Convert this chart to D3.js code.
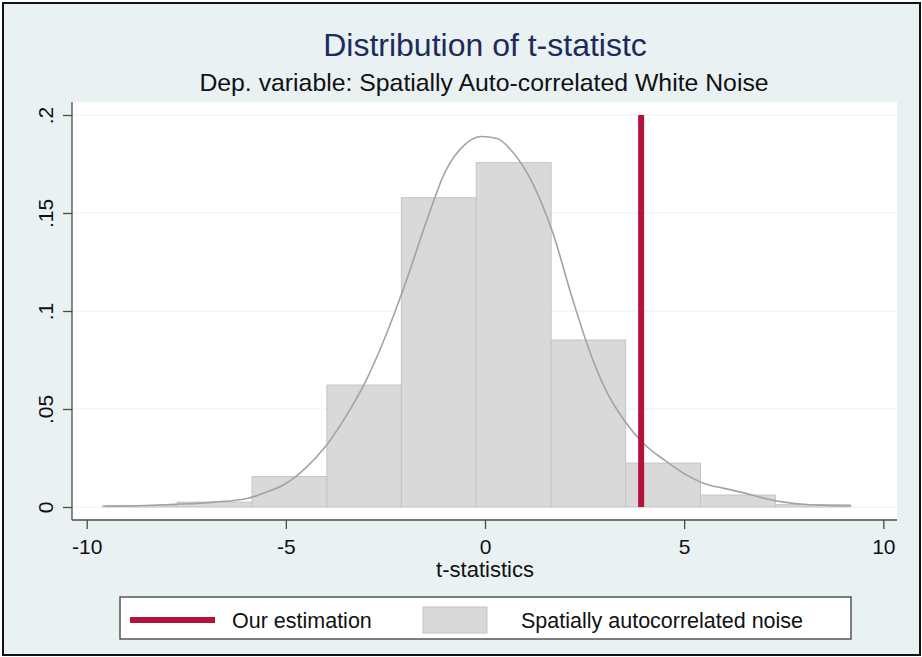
<!DOCTYPE html>
<html>
<head>
<meta charset="utf-8">
<script src="https://cdn.jsdelivr.net/npm/d3@7"></script>
<style>
  html, body { margin: 0; padding: 0; background: #ffffff; }
  svg { display: block; font-family: "Liberation Sans", Arial, Helvetica, sans-serif; }
</style>
</head>
<body>
<svg id="chart" width="922" height="657"></svg>
<script>
// ---- Data ----
const titleText = "Distribution of t-statistc";
const subtitleText = "Dep. variable: Spatially Auto-correlated White Noise";
const xLabel = "t-statistics";
const binEdges = [-9.60, -7.73, -5.85, -3.97, -2.10, -0.22, 1.66, 3.53, 5.41, 7.29, 9.16];
const binDensity = [0.0008, 0.0025, 0.0155, 0.0622, 0.1578, 0.1757, 0.0852, 0.0224, 0.0061, 0.0012];
const kdeX = [-9.55, -8.5, -7.6, -6.8, -6.0, -5.5, -5.0, -4.5, -4.0, -3.5, -3.0, -2.5, -2.0, -1.5, -1.0, -0.5, -0.1, 0.3, 0.7, 1.2, 1.7, 2.2, 2.6, 3.0, 3.5, 4.0, 4.5, 5.0, 5.5, 6.0, 6.5, 7.0, 7.5, 8.0, 8.5, 9.2];
const kdeY = [0.0004, 0.0008, 0.0015, 0.0025, 0.0042, 0.0075, 0.012, 0.020, 0.031, 0.046, 0.064, 0.087, 0.114, 0.144, 0.171, 0.185, 0.189, 0.188, 0.181, 0.165, 0.140, 0.106, 0.081, 0.061, 0.044, 0.032, 0.024, 0.017, 0.012, 0.0095, 0.0072, 0.0045, 0.0025, 0.0014, 0.0009, 0.0006];
const estimate = 3.92;
const xTicks = [-10, -5, 0, 5, 10];
const xTickLabels = ["-10", "-5", "0", "5", "10"];
const yTicks = [0, 0.05, 0.1, 0.15, 0.2];
const yTickLabels = ["0", ".05", ".1", ".15", ".2"];
const legendLabels = ["Our estimation", "Spatially autocorrelated noise"];

// ---- Layout ----
const W = 922, H = 657;
const plot = { left: 72, right: 897, top: 102, bottom: 520 };
const colors = { bg: "#e9f1f3", title: "#1d2b5b", bar: "#d9d9d9", barStroke: "#c4c4c4",
  kde: "#a3a3a3", est: "#b3123b", axis: "#4a4a4a", grid: "#edf1f2" };

const svg = d3.select("#chart");

// background & outer frame
svg.append("rect").attr("x", 0).attr("y", 0).attr("width", W).attr("height", H).attr("fill", "#ffffff");
svg.append("rect").attr("x", 3).attr("y", 3).attr("width", 917).attr("height", 652)
  .attr("fill", colors.bg).attr("stroke", "#111").attr("stroke-width", 2);

// plot region
svg.append("rect").attr("x", plot.left).attr("y", plot.top)
  .attr("width", plot.right - plot.left).attr("height", plot.bottom - plot.top).attr("fill", "#ffffff");

const x = d3.scaleLinear().domain([-10, 10]).range([86.7, 883.3]);
const y = d3.scaleLinear().domain([0, 0.2]).range([507, 115]);

// gridlines
svg.append("g").selectAll("line").data(yTicks).join("line")
  .attr("x1", plot.left).attr("x2", plot.right)
  .attr("y1", d => y(d)).attr("y2", d => y(d))
  .attr("stroke", colors.grid).attr("stroke-width", 1.2);

// histogram bars
const bins = binDensity.map((v, i) => ({ x0: binEdges[i], x1: binEdges[i + 1], v }));
svg.append("g").selectAll("rect").data(bins).join("rect")
  .attr("x", d => x(d.x0)).attr("width", d => x(d.x1) - x(d.x0))
  .attr("y", d => y(d.v)).attr("height", d => y(0) - y(d.v))
  .attr("fill", colors.bar).attr("stroke", colors.barStroke).attr("stroke-width", 1);

// kernel density
const kde = kdeX.map((v, i) => [v, kdeY[i]]);
svg.append("path").datum(kde)
  .attr("d", d3.line().x(d => x(d[0])).y(d => y(d[1])).curve(d3.curveMonotoneX))
  .attr("fill", "none").attr("stroke", colors.kde).attr("stroke-width", 1.6);

// estimate line
svg.append("line").attr("x1", x(estimate)).attr("x2", x(estimate))
  .attr("y1", y(0.2)).attr("y2", y(0))
  .attr("stroke", colors.est).attr("stroke-width", 6);

// axes
const yAxis = svg.append("g").attr("transform", `translate(${plot.left},0)`)
  .call(d3.axisLeft(y).tickValues(yTicks).tickSize(9).tickPadding(0).tickFormat(""));
yAxis.select(".domain").attr("d", `M0,${plot.top}V${plot.bottom}`);
yAxis.selectAll("line, path").attr("stroke", colors.axis).attr("stroke-width", 1.3);
yAxis.selectAll(".tick").append("text")
  .attr("transform", "translate(-19,0) rotate(-90)")
  .attr("text-anchor", "middle").attr("fill", "#111")
  .attr("font-size", 21)
  .text((d, i) => yTickLabels[i]);

const xAxis = svg.append("g").attr("transform", `translate(0,${plot.bottom})`)
  .call(d3.axisBottom(x).tickValues(xTicks).tickSize(9).tickPadding(0).tickFormat(""));
xAxis.select(".domain").attr("d", `M${plot.left},0H${plot.right}`);
xAxis.selectAll("line, path").attr("stroke", colors.axis).attr("stroke-width", 1.3);
xAxis.selectAll(".tick").append("text")
  .attr("y", 34).attr("text-anchor", "middle").attr("fill", "#111")
  .attr("font-size", 21)
  .text((d, i) => xTickLabels[i]);

// axis title
svg.append("text").attr("x", 485).attr("y", 577).attr("text-anchor", "middle")
  .attr("font-size", 22).attr("fill", "#111").text(xLabel);

// titles
svg.append("text").attr("x", 485).attr("y", 56).attr("text-anchor", "middle")
  .attr("font-size", 32).attr("fill", colors.title).text(titleText);
svg.append("text").attr("x", 484).attr("y", 91).attr("text-anchor", "middle")
  .attr("font-size", 24.8).attr("fill", "#111").text(subtitleText);

// legend
const lg = svg.append("g");
lg.append("rect").attr("x", 120).attr("y", 597).attr("width", 731).attr("height", 42)
  .attr("fill", "#ffffff").attr("stroke", "#555").attr("stroke-width", 1.5);
lg.append("line").attr("x1", 130).attr("x2", 215).attr("y1", 620).attr("y2", 620)
  .attr("stroke", colors.est).attr("stroke-width", 6);
lg.append("text").attr("x", 232).attr("y", 628).attr("font-size", 21.5).attr("fill", "#111").text(legendLabels[0]);
lg.append("rect").attr("x", 423).attr("y", 607).attr("width", 64).attr("height", 26)
  .attr("fill", colors.bar).attr("stroke", colors.barStroke);
lg.append("text").attr("x", 521).attr("y", 628).attr("font-size", 21.5).attr("fill", "#111").text(legendLabels[1]);
</script>
</body>
</html>
